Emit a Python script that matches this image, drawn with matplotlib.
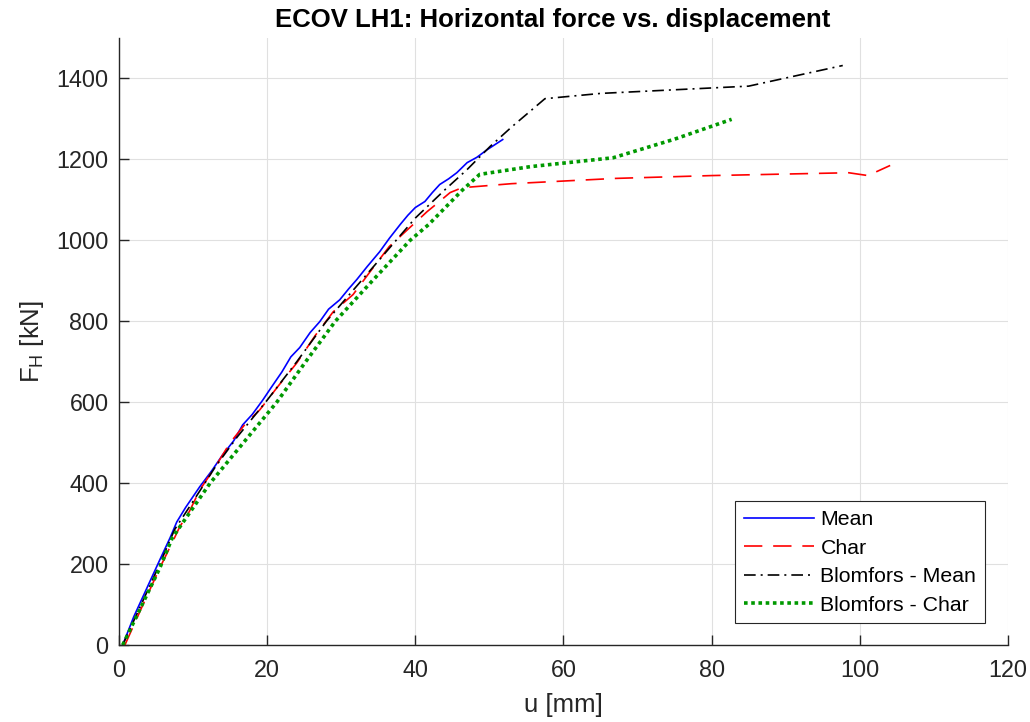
import numpy as np
import matplotlib.pyplot as plt

plt.rcParams['font.family'] = ['Liberation Sans', 'DejaVu Sans']

# Mean
u_mean = [0.5, 2, 4, 5.5, 6.9, 7.8, 9, 10.9, 12.5, 14, 15.5, 16.7, 18, 19.4, 20.5, 22,
          23.2, 24.4, 25.8, 27.1, 28.3, 29.8, 31, 32.1, 33.5, 35.2, 36.5, 38, 39, 40,
          41.3, 42.3, 43.3, 44.5, 45.6, 47, 48.3, 49.7, 51.8]
F_mean = [0, 70, 150, 210, 265, 304, 340, 391, 430, 470, 505, 544, 570, 605, 635, 675,
          712, 735, 772, 799, 830, 853, 880, 903, 935, 972, 1005, 1040, 1062, 1081,
          1096, 1118, 1138, 1152, 1167, 1192, 1205, 1224, 1249]

# Char
u_char = [0.8, 3, 5.5, 7.5, 8.2, 9.5, 10.9, 13, 15, 17, 19, 21.5, 24, 26.5, 28.9, 31.6,
          34, 36.5, 40, 41.6, 43, 44.7, 46.3, 53, 67, 80, 98.5, 101.1, 104.1]
F_char = [0, 90, 190, 265, 292, 330, 383, 440, 500, 545, 581, 640, 697, 765, 823, 866,
          925, 985, 1044, 1071, 1092, 1118, 1130, 1140, 1153, 1160, 1167, 1160, 1185]

# Blomfors - Mean
u_bm = [0.5, 3, 5.5, 7.5, 10, 13, 16, 20, 24, 28, 32, 36, 40, 44, 47, 50.1, 53, 57.5,
        65, 85, 97.7]
F_bm = [0, 100, 200, 285, 355, 440, 515, 605, 700, 800, 885, 970, 1055, 1125, 1175,
        1232, 1280, 1350, 1363, 1381, 1432]

# Blomfors - Char
u_bc = [0.5, 3, 5.5, 7.2, 12.3, 16.8, 21.3, 25.2, 29.2, 34.2, 39.3, 41.8, 46.4, 48.7,
        55.5, 66.7, 75, 82.7]
F_bc = [0, 95, 190, 265, 400, 500, 600, 700, 800, 900, 1000, 1039, 1125, 1163,
        1182, 1204, 1250, 1299]

txt = '#262626'
fig = plt.figure(figsize=(10.3, 7.22), dpi=100)
ax = fig.add_axes([0.1155, 0.1066, 0.8631, 0.8408])

ax.plot(u_mean, F_mean, color='blue', lw=1.2, label='Mean')
l2, = ax.plot(u_char, F_char, color='red', lw=1.2, label='Char')
l2.set_dashes((11, 6.5))
l3, = ax.plot(u_bm, F_bm, color='black', lw=1.2, label='Blomfors - Mean')
l3.set_dashes((7, 3, 1.2, 3))
l4, = ax.plot(u_bc, F_bc, color=(0, 0.6, 0), lw=2.6, label='Blomfors - Char')
l4.set_dashes((1, 1))

ax.set_xlim(0, 120)
ax.set_ylim(0, 1500)
ax.set_xticks(np.arange(0, 121, 20))
ax.set_yticks(np.arange(0, 1401, 200))
ax.grid(True, color='#e0e0e0', lw=0.8)
ax.set_axisbelow(True)
ax.spines['top'].set_visible(False)
ax.spines['right'].set_visible(False)
for s in ['left', 'bottom']:
    ax.spines[s].set_color(txt)
    ax.spines[s].set_linewidth(1.0)
ax.tick_params(direction='in', length=7, width=1, colors=txt, labelsize=16.8)
ax.tick_params(axis='x', pad=10)
ax.tick_params(axis='y', pad=7.5)

ax.set_xlabel('u [mm]', fontsize=18.5, color=txt, labelpad=8)
ax.set_ylabel('F$_\\mathregular{H}$ [kN]', fontsize=18.5, color=txt, labelpad=7)
ax.set_title('ECOV LH1: Horizontal force vs. displacement', fontsize=18.5, fontweight='bold',
             color='black', pad=8, x=0.488)

leg = ax.legend(loc='lower right', bbox_to_anchor=(0.974, 0.036), fontsize=15.3,
                fancybox=False, framealpha=1, edgecolor='#262626', borderaxespad=0,
                handlelength=3.3, labelspacing=0.45, handletextpad=0.3, borderpad=0.4)
leg.get_frame().set_linewidth(0.8)

fig.savefig('out.png', dpi=100)
